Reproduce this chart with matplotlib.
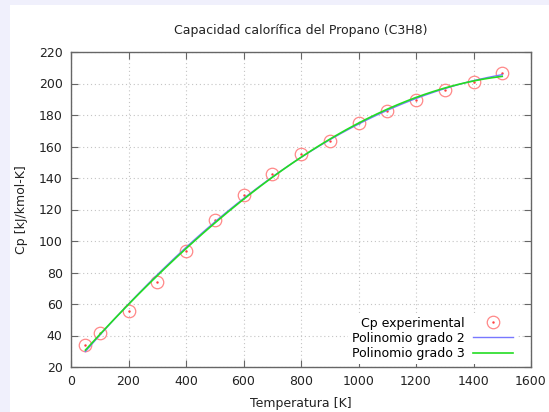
import numpy as np
import matplotlib
matplotlib.use("Agg")
from matplotlib import pyplot as plt
from matplotlib.patches import Rectangle
from matplotlib.legend_handler import HandlerTuple

# datos experimentales Cp del propano
temperatura = [50, 100, 200, 300, 400, 500, 600, 700, 800, 900,
               1000, 1100, 1200, 1300, 1400, 1500]
cp = [34.0, 41.4, 55.7, 74.2, 93.8, 113.1, 129.2, 142.5, 155.2, 163.7,
      174.7, 182.7, 189.5, 195.9, 201.1, 206.5]

x_ticks = [0, 200, 400, 600, 800, 1000, 1200, 1400, 1600]
y_ticks = [20, 40, 60, 80, 100, 120, 140, 160, 180, 200, 220]

plt.rcParams['font.family'] = ['DejaVu Sans']

fig = plt.figure(figsize=(5.49, 4.12), dpi=100, facecolor='#f0f0fc')
# panel blanco
fondo = Rectangle((10 / 549, 0), 1, (412 - 5) / 412, transform=fig.transFigure,
                  facecolor='white', edgecolor='none', zorder=-10)
fig.add_artist(fondo)

ax = fig.add_axes([71 / 549, (412 - 367) / 412, 460 / 549, 315 / 412])
ax.set_zorder(1)

# ajustes polinomiales
x = np.array(temperatura, dtype=float)
y = np.array(cp)
xs = np.linspace(x.min(), x.max(), 200)
p2 = np.polyfit(x, y, 2)
p3 = np.polyfit(x, y, 3)

circ, = ax.plot(x, y, 'o', mfc='none', mec='#ff8888', ms=9, mew=0.9, zorder=3)
dot, = ax.plot(x, y, '.', color='#ff4040', ms=1.5, zorder=3)
l2, = ax.plot(xs, np.polyval(p2, xs), color='#7878ff', lw=1.0, zorder=4)
l3, = ax.plot(xs, np.polyval(p3, xs), color='#22dd22', lw=1.2, zorder=5)

ax.set_xlim(0, 1600)
ax.set_ylim(20, 220)
ax.set_xticks(x_ticks)
ax.set_yticks(y_ticks)
ax.tick_params(direction='in', top=True, right=True, length=5, width=0.8,
               color='#666666', labelsize=9, labelcolor='#222222', pad=6)
for s in ax.spines.values():
    s.set_color('#666666')
    s.set_linewidth(1.0)
ax.grid(True, linestyle=(0, (1, 2.5)), color='#c4c4c4', linewidth=0.8)

ax.set_title('Capacidad calorífica del Propano (C3H8)', fontsize=9,
             color='#222222', pad=13)
ax.set_xlabel('Temperatura [K]', fontsize=9, color='#222222', labelpad=6)
ax.set_ylabel('Cp [kJ/kmol-K]', fontsize=9, color='#222222', labelpad=8)

leg = ax.legend([(circ, dot), l2, l3],
                ['Cp experimental', 'Polinomio grado 2', 'Polinomio grado 3'],
                loc='lower right', bbox_to_anchor=(0.97, 0.01),
                markerfirst=False, fontsize=9, frameon=True, fancybox=False,
                framealpha=1, edgecolor='none', facecolor='white',
                handlelength=3.2, handletextpad=0.7, labelspacing=0.18,
                borderpad=0.3, borderaxespad=0, numpoints=1,
                handler_map={tuple: HandlerTuple(ndivide=1)})
leg.set_zorder(6)

fig.savefig('out.png', dpi=100, facecolor=fig.get_facecolor())
